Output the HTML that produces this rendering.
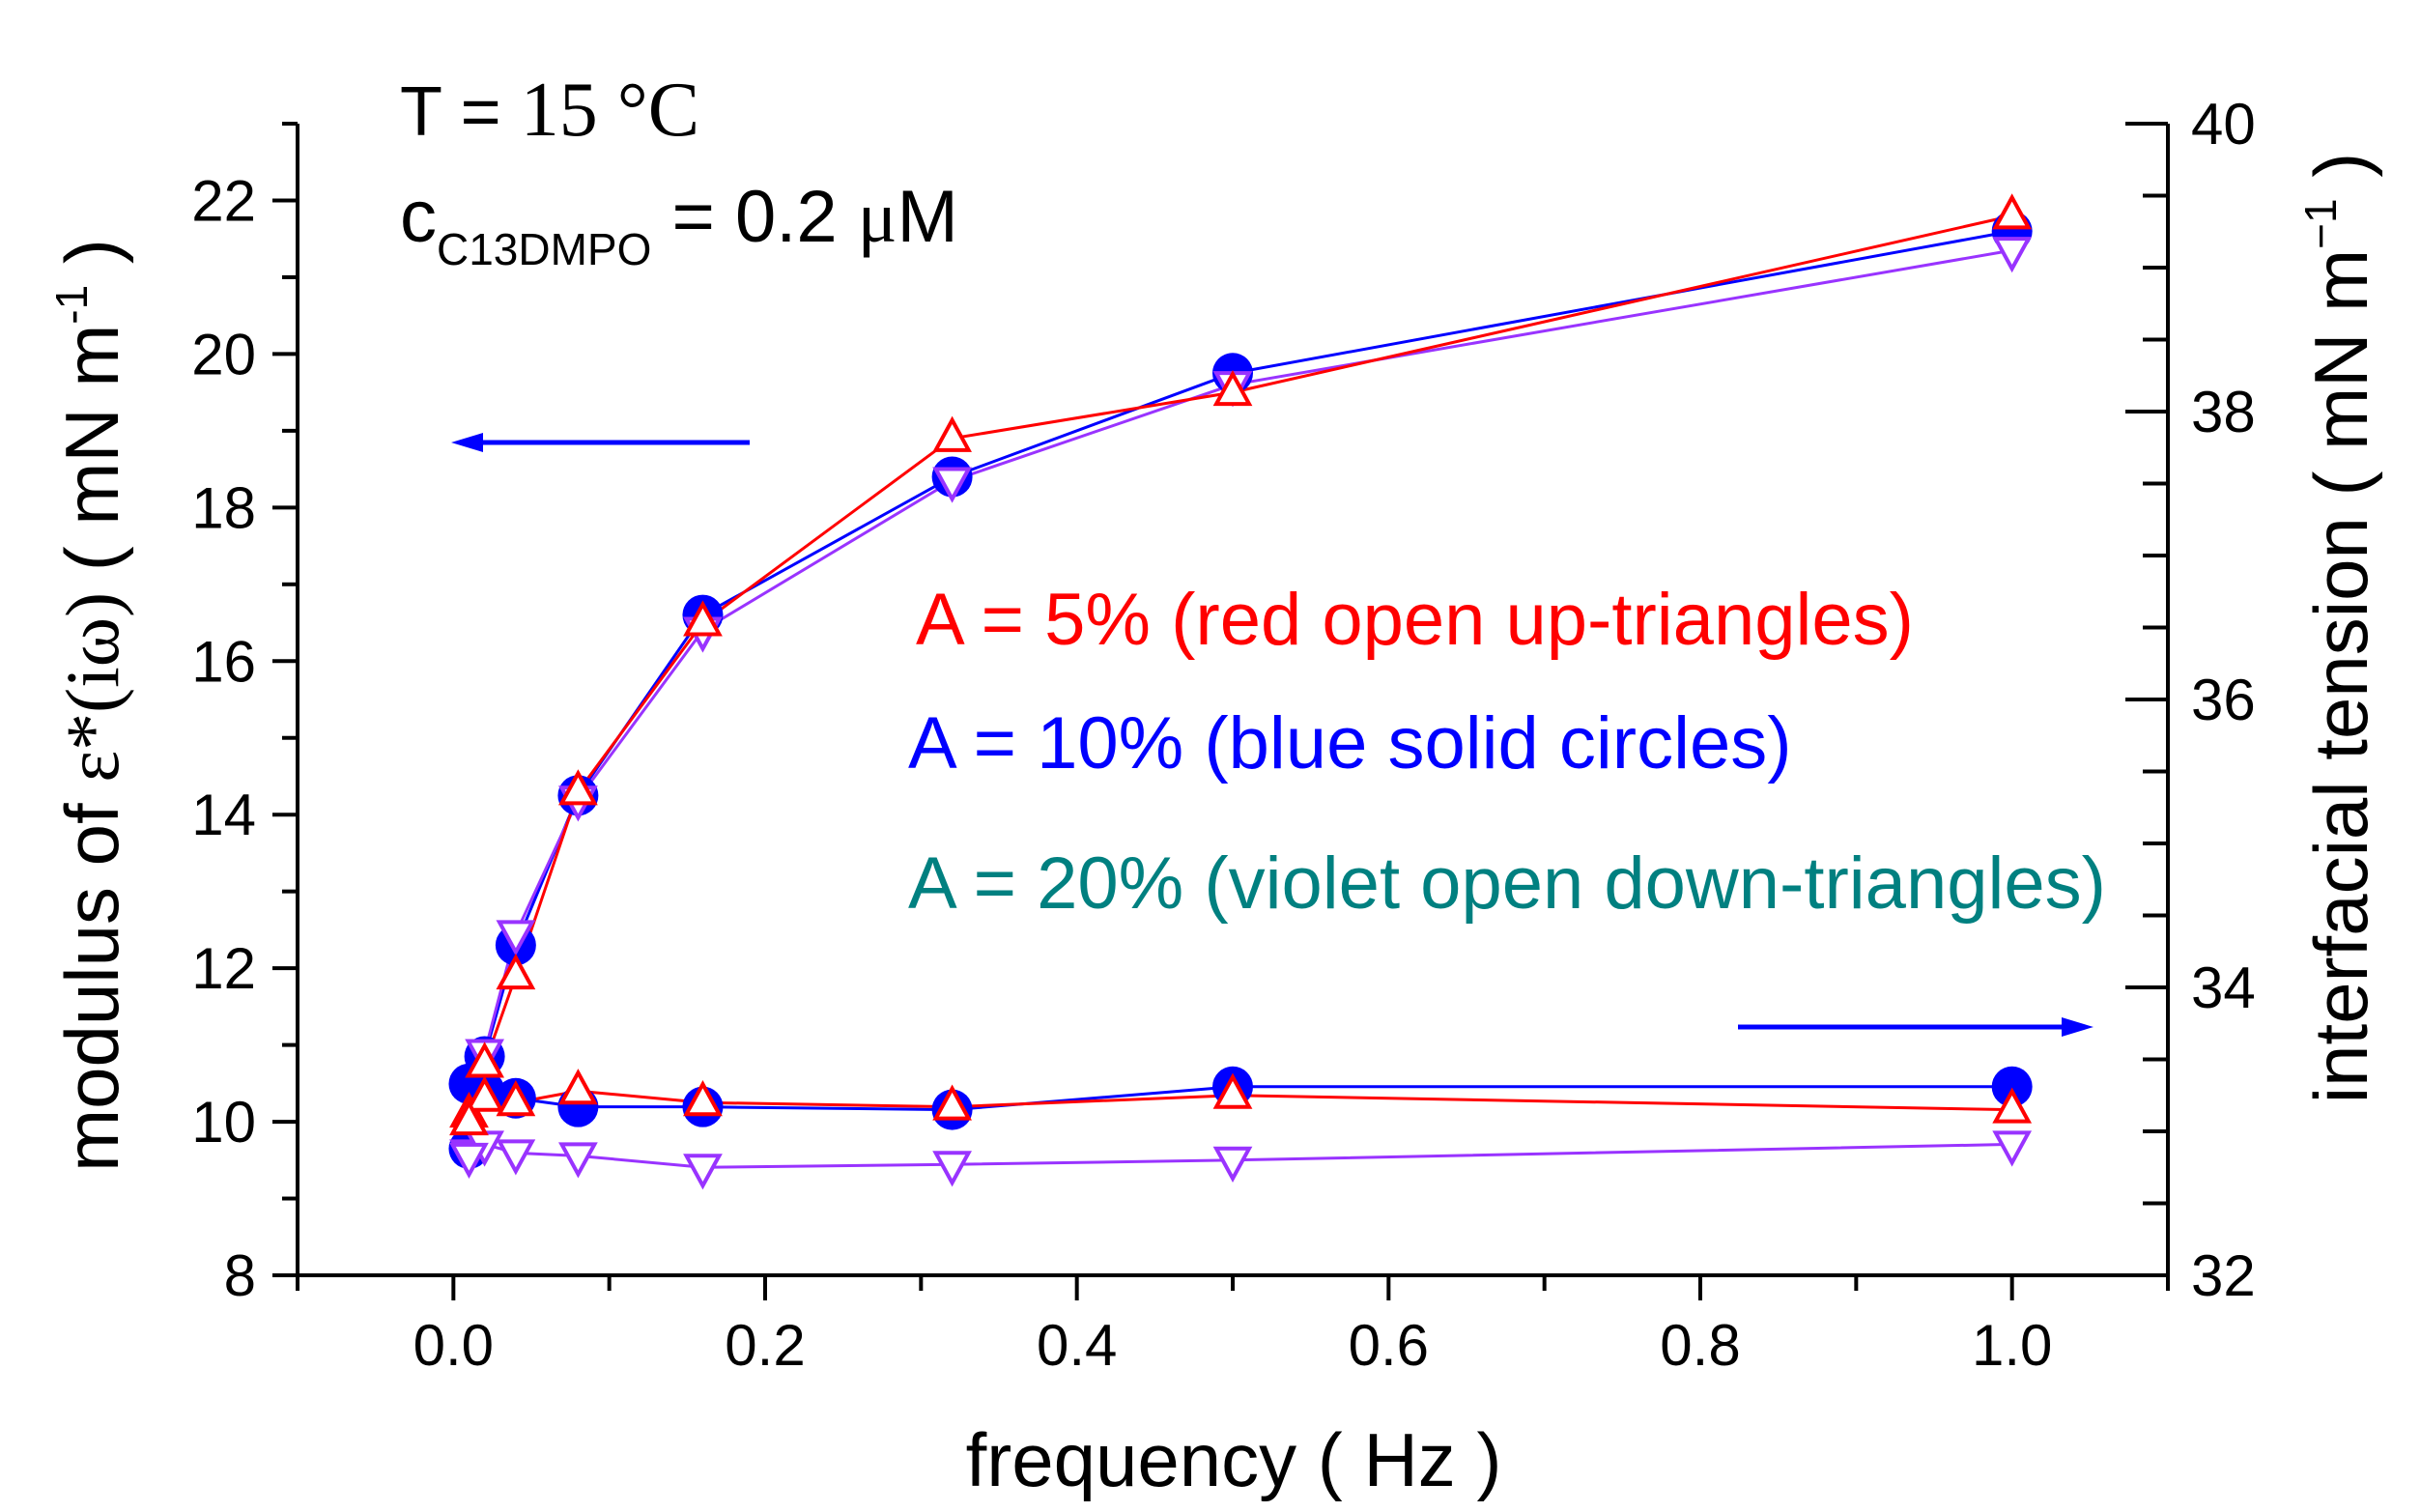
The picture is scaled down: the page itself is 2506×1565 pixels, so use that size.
<!DOCTYPE html>
<html><head><meta charset="utf-8"><style>html,body{margin:0;padding:0;background:#fff}svg{display:block}text{font-family:"Liberation Sans",sans-serif}</style></head>
<body>
<svg id="chart" width="2506" height="1565" viewBox="0 0 2506 1565" xmlns="http://www.w3.org/2000/svg">
<g id="axes"></g>
<g id="series"></g>
<text x="414" y="140" font-size="72">T = <tspan font-family="Liberation Serif" font-size="80">15 °C</tspan></text>
<text x="414" y="250" font-size="76">c<tspan font-size="46" dy="24">C13DMPO</tspan><tspan dy="-24"> = 0.2 </tspan><tspan font-family="Liberation Serif">μ</tspan>M</text>
<text x="948" y="667" font-size="76" fill="#ff0000">A =  5% (red open up-triangles)</text>
<text x="940" y="795" font-size="76" fill="#0000ff">A = 10% (blue solid circles)</text>
<text x="940" y="940" font-size="76" fill="#008080">A = 20% (violet open down-triangles)</text>
<g><line x1="776" y1="458" x2="495" y2="458" stroke="#0000ff" stroke-width="5"/><polygon points="467,458 500,448 500,468" fill="#0000ff"/></g>
<g><line x1="1799" y1="1063" x2="2140" y2="1063" stroke="#0000ff" stroke-width="5"/><polygon points="2167,1063 2134,1053 2134,1073" fill="#0000ff"/></g>
<text x="1277" y="1538" font-size="78" text-anchor="middle">frequency ( Hz )</text>
<text transform="translate(122,730) rotate(-90)" font-size="78" text-anchor="middle">modulus of <tspan font-family="Liberation Serif">ε*(iω)</tspan>  ( mN m<tspan font-size="46" dy="-32">-1</tspan><tspan dy="32"> )</tspan></text>
<text transform="translate(2450,650) rotate(-90)" font-size="78" text-anchor="middle">interfacial tension ( mN m<tspan font-size="46" dy="-32">−1</tspan><tspan dy="32"> )</tspan></text>
</svg>
<script>
const freq=[0.01,0.02,0.04,0.08,0.16,0.32,0.5,1.0];
const redModulus=[10.0,10.75,11.9,14.3,16.5,18.9,19.5,21.8];
const blueModulus=[9.65,10.85,12.3,14.25,16.6,18.4,19.75,21.6];
const violetModulus=[9.55,10.9,12.45,14.2,16.4,18.35,19.6,21.35];
const redTension=[33.12,33.23,33.2,33.28,33.2,33.17,33.25,33.15];
const blueTension=[33.33,33.28,33.23,33.17,33.17,33.15,33.31,33.31];
const violetTension=[32.85,32.91,32.85,32.83,32.75,32.77,32.8,32.91];
const xTicks=[0.0,0.2,0.4,0.6,0.8,1.0];
const xTickLabels=["0.0","0.2","0.4","0.6","0.8","1.0"];
const leftTicks=[8,10,12,14,16,18,20,22];
const rightTicks=[32,34,36,38,40];

const L=308,R=2244,T=128,B=1320;
const sx=v=>L+(v+0.1)/1.2*(R-L);
const syL=v=>B-(v-8)/15*(B-T);
const syR=v=>B-(v-32)/8*(B-T);
const NS="http://www.w3.org/2000/svg";
function mk(tag,attrs,parent){const e=document.createElementNS(NS,tag);for(const k in attrs)e.setAttribute(k,attrs[k]);parent.appendChild(e);return e;}
const ax=document.getElementById('axes');
let e;
e=mk('path',{d:`M${L},${T} L${L},${B} L${R},${B} L${R},${T}`,fill:'none',stroke:'#000','stroke-width':4},ax);


for(let i=-1;i<=11;i++){const v=i/10;const x=sx(v);const major=Math.abs(Math.round(i/2)*2-i)<1e-9&&i>=0;
 e=mk('line',{x1:x,y1:B,x2:x,y2:B+(major?26:16),stroke:'#000','stroke-width':4},ax);
 
 }
xTicks.forEach((v,i)=>{e=mk('text',{x:sx(v),y:1413,'font-size':60,'text-anchor':'middle'},ax);e.textContent=xTickLabels[i];
 
 });
for(let v=8;v<=23;v++){const y=syL(v);const major=v%2===0;
 e=mk('line',{x1:L,y1:y,x2:L-(major?26:16),y2:y,stroke:'#000','stroke-width':4},ax);
 
 }
leftTicks.forEach(v=>{e=mk('text',{x:265,y:syL(v)+21,'font-size':60,'text-anchor':'end'},ax);e.textContent=String(v);
 
 });
for(let v=32;v<=40.001;v+=0.5){const y=syR(v);const major=Math.abs(v%2)<1e-6;
 e=mk('line',{x1:R,y1:y,x2:R-(major?44:26),y2:y,stroke:'#000','stroke-width':4},ax);
 
 }
rightTicks.forEach(v=>{e=mk('text',{x:2268,y:syR(v)+21,'font-size':60},ax);e.textContent=String(v);
 
 });

const sg=document.getElementById('series');
function line(vals,sy,color,name){const pts=freq.map((f,i)=>sx(f)+','+sy(vals[i])).join(' ');
 e=mk('polyline',{points:pts,fill:'none',stroke:color,'stroke-width':3},sg);
 
 }
function markers(vals,sy,type,color,name){freq.forEach((f,i)=>{const x=sx(f),y=sy(vals[i]);let m;
 if(type==='circle')m=mk('circle',{cx:x,cy:y,r:21,fill:color},sg);
 else if(type==='up')m=mk('polygon',{points:`${x},${y-19} ${x-17},${y+12} ${x+17},${y+12}`,fill:'#fff',stroke:color,'stroke-width':4},sg);
 else m=mk('polygon',{points:`${x},${y+19} ${x-17},${y-12} ${x+17},${y-12}`,fill:'#fff',stroke:color,'stroke-width':4},sg);
 
 });}
line(blueTension,syR,'#0000ff','blue-tension-line');
line(redTension,syR,'#ff0000','red-tension-line');
line(violetTension,syR,'#9933ff','violet-tension-line');
line(blueModulus,syL,'#0000ff','blue-modulus-line');
line(violetModulus,syL,'#9933ff','violet-modulus-line');
line(redModulus,syL,'#ff0000','red-modulus-line');
markers(blueTension,syR,'circle','#0000ff','blue-tension-point');
markers(blueModulus,syL,'circle','#0000ff','blue-modulus-point');
markers(redTension,syR,'up','#ff0000','red-tension-point');
markers(violetTension,syR,'down','#9933ff','violet-tension-point');
markers(violetModulus,syL,'down','#9933ff','violet-modulus-point');
markers(redModulus,syL,'up','#ff0000','red-modulus-point');
</script>
</body></html>
